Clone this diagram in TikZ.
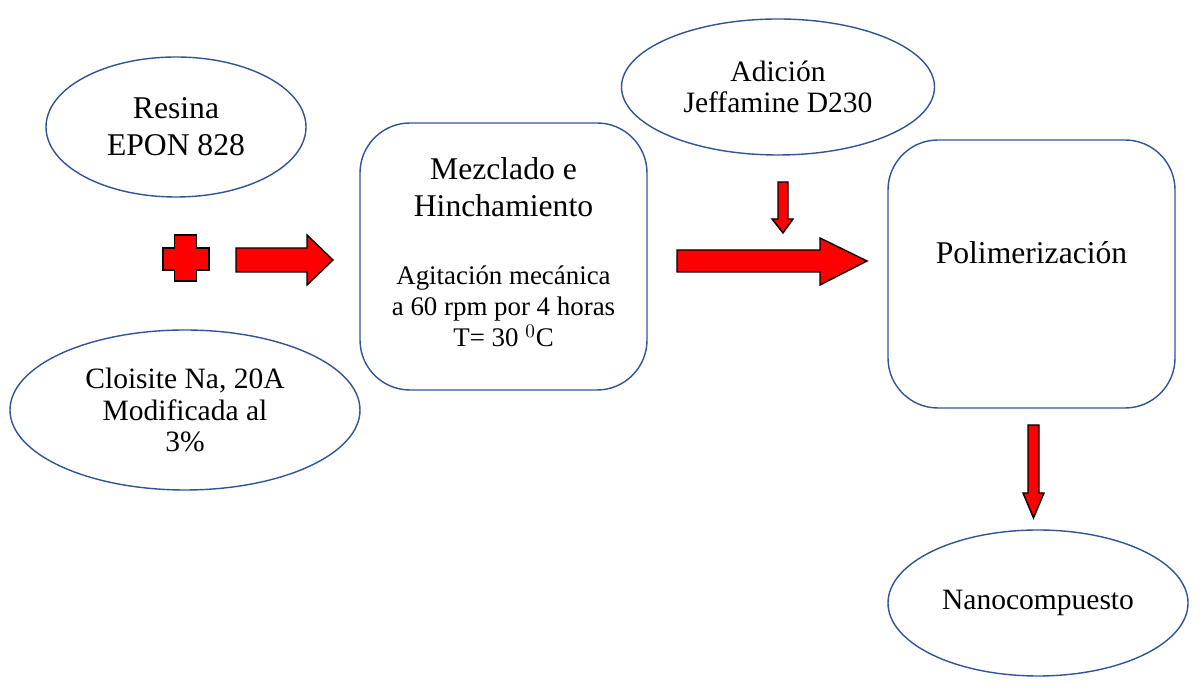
\documentclass[tikz,border=0pt]{standalone}
\usepackage{fontspec}
\setmainfont{Liberation Serif}
\usepackage{xcolor}
\usepackage[]{tikz}
\usetikzlibrary{positioning,shapes,calc}
\usetikzlibrary{arrows.meta,arrows}
\definecolor{edgeBlue}{HTML}{2F5597}
\definecolor{arrowRed}{HTML}{FF0000}
\tikzstyle{nodeOval}  =[ellipse,draw=edgeBlue,line width=0.8pt,align=center,inner sep=0pt]
\tikzstyle{nodeStep}  =[rectangle,rounded corners=1cm,draw=edgeBlue,line width=0.8pt,align=center,inner sep=0pt]
\tikzstyle{blockArrow}=[fill=arrowRed,draw=black,line width=0.8pt,line join=miter]
\tikzstyle{bigTxt}    =[align=center,font=\fontsize{18}{21}\selectfont]
\tikzstyle{midTxt}    =[align=center,font=\fontsize{16.8}{18}\selectfont]
\tikzstyle{smallTxt}  =[align=center,font=\fontsize{15.3}{17.6}\selectfont]

\begin{document}
\begin{tikzpicture}[auto, on grid, ]
      \useasboundingbox (0,0) rectangle (24,13.72);
      \node[nodeOval, bigTxt, minimum width=5.2cm, minimum height=2.8cm] (resina) at (3.52,11.18) {Resina\\EPON 828};
      \node[nodeOval, midTxt, minimum width=7cm, minimum height=3.2cm] (cloisite) at (3.70,5.52) {Cloisite Na, 20A\\Modificada al\\3\%};
      \node[nodeStep, minimum width=5.74cm, minimum height=5.34cm] (mezcla) at (10.07,8.59) {};
      \node[bigTxt] (mezclaTit) at ($(mezcla.north)+(0,-1.3)$) {Mezclado e\\Hinchamiento};
      \node[smallTxt] (mezclaCond) at ($(mezcla.north)+(0,-3.68)$) {Agitación mecánica\\a 60 rpm por 4 horas\\T= 30 $^{0}$C};
      \node[nodeOval, midTxt, minimum width=6.26cm, minimum height=2.72cm] (adicion) at (15.56,11.98) {Adición\\Jeffamine D230};
      \node[nodeStep, minimum width=5.74cm, minimum height=5.36cm] (polim) at (20.63,8.24) {};
      \node[bigTxt] (polimTit) at ($(polim.north)+(0,-2.26)$) {Polimerización};
      \node[nodeOval, midTxt, minimum width=6cm, minimum height=2.92cm] (nano) at (20.76,1.66) {Nanocompuesto};
      % plus sign
      \draw[blockArrow] (3.49,9.02) -- (3.93,9.02) -- (3.93,8.76) -- (4.18,8.76) -- (4.18,8.32)
        -- (3.93,8.32) -- (3.93,8.10) -- (3.49,8.10) -- (3.49,8.32) -- (3.26,8.32)
        -- (3.26,8.76) -- (3.49,8.76) -- cycle;
      % block arrows
      \draw[blockArrow] (4.72,8.76) -- (6.14,8.76) -- (6.14,9.02) -- (6.66,8.52)
        -- (6.14,8.02) -- (6.14,8.28) -- (4.72,8.28) -- cycle;
      \draw[blockArrow] (13.54,8.72) -- (16.40,8.72) -- (16.40,8.96) -- (17.34,8.50)
        -- (16.40,8.02) -- (16.40,8.28) -- (13.54,8.28) -- cycle;
      \draw[blockArrow] (15.56,10.08) -- (15.76,10.08) -- (15.76,9.34) -- (15.86,9.34)
        -- (15.66,9.06) -- (15.44,9.34) -- (15.56,9.34) -- cycle;
      \draw[blockArrow] (20.56,5.22) -- (20.78,5.22) -- (20.78,3.86) -- (20.88,3.86)
        -- (20.67,3.36) -- (20.46,3.86) -- (20.56,3.86) -- cycle;
    \end{tikzpicture}
\end{document}
